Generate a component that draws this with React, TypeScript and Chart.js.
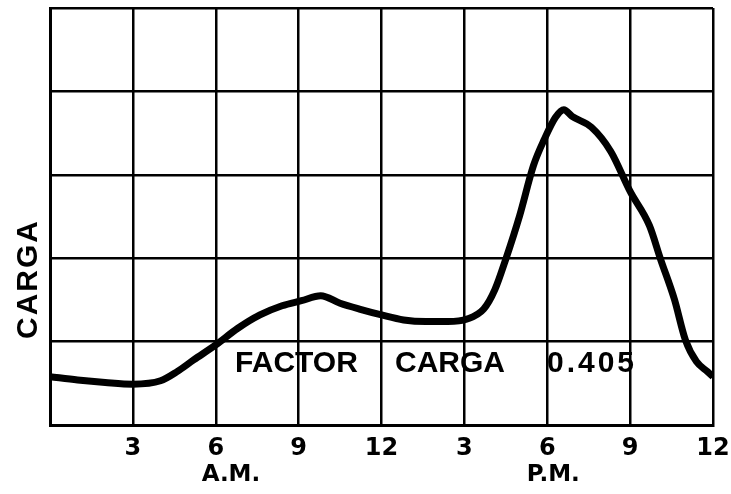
import React, { useEffect, useRef } from "react";
import { Chart, registerables } from "chart.js";

Chart.register(...registerables);

const hours = [0, 1, 2, 3, 4, 4.6, 5.2, 6, 6.8, 7.6, 8.4, 9.1, 9.8, 10.5, 11.2, 12, 12.8, 13.6, 14.4, 15.1, 15.7, 16.1, 16.5, 17, 17.5, 17.9, 18.3, 18.6, 18.9, 19.6, 20.3, 21, 21.7, 22.1, 22.6, 23, 23.4, 23.8, 24];
const load = [0.58, 0.54, 0.51, 0.49, 0.53, 0.64, 0.78, 0.96, 1.16, 1.32, 1.43, 1.49, 1.55, 1.46, 1.39, 1.32, 1.26, 1.24, 1.24, 1.27, 1.39, 1.62, 1.99, 2.51, 3.11, 3.43, 3.69, 3.78, 3.70, 3.57, 3.28, 2.80, 2.39, 1.99, 1.51, 1.02, 0.76, 0.64, 0.58];
const hourTickLabels = ["", "3", "6", "9", "12", "3", "6", "9", "12"];
const periodLabels = ["A.M.", "P.M."];
const periodHours = [6.55, 18.22];
const annotationWords = ["FACTOR", "CARGA", "0.405"];
const annotationHours = [6.7, 12.49, 17.99];
const annotationValue = 0.64;
const yTitle = "CARGA";

const overlayPlugin = {
  id: "overlay",
  afterDraw(chart: any) {
    const ctx = chart.ctx;
    const xs = chart.scales.x;
    const ys = chart.scales.y;
    const area = chart.chartArea;
    ctx.save();
    ctx.fillStyle = "#000";
    ctx.font = "bold 30px 'Liberation Sans', Arial, sans-serif";
    ctx.textAlign = "left";
    ctx.textBaseline = "alphabetic";
    annotationWords.forEach((w, i) => {
      (ctx as any).letterSpacing = i === 2 ? "3px" : "0px";
      ctx.fillText(w, xs.getPixelForValue(annotationHours[i]), ys.getPixelForValue(annotationValue));
    });
    (ctx as any).letterSpacing = "0px";
    ctx.font = "bold 23px 'DejaVu Sans', sans-serif";
    ctx.textAlign = "center";
    ctx.textBaseline = "middle";
    periodLabels.forEach((t, i) => {
      ctx.fillText(t, xs.getPixelForValue(periodHours[i]), area.bottom + 50);
    });
    ctx.translate(area.left - 21.5, area.bottom - 146);
    ctx.rotate(-Math.PI / 2);
    ctx.font = "bold 30px 'Liberation Sans', Arial, sans-serif";
    (ctx as any).letterSpacing = "2px";
    ctx.textAlign = "center";
    ctx.textBaseline = "middle";
    ctx.fillText(yTitle, 0, 0);
    ctx.restore();
  },
};

export default function App() {
  const ref = useRef<HTMLCanvasElement | null>(null);
  useEffect(() => {
    if (!ref.current) return;
    const chart = new Chart(ref.current, {
      type: "line",
      data: {
        datasets: [
          {
            data: hours.map((h, i) => ({ x: h, y: load[i] })),
            borderColor: "#000",
            borderWidth: 7,
            pointRadius: 0,
            cubicInterpolationMode: "monotone",
            fill: false,
          },
        ],
      },
      options: {
        animation: false,
        responsive: true,
        maintainAspectRatio: false,
        layout: { padding: { top: 8, right: 18, left: 0, bottom: 0 } },
        plugins: { legend: { display: false }, tooltip: { enabled: false } },
        scales: {
          x: {
            type: "linear",
            min: 0,
            max: 24,
            afterFit: (s: any) => {
              s.height = 69;
              s.paddingLeft = 0;
              s.paddingRight = 0;
            },
            ticks: {
              stepSize: 3,
              padding: 9,
              color: "#000",
              font: { family: "'DejaVu Sans', sans-serif", size: 24, weight: "bold" },
              callback: (v: any) => hourTickLabels[Math.round(Number(v) / 3)] ?? "",
              maxRotation: 0,
              autoSkip: false,
            },
            grid: { color: "#000", lineWidth: 2.5, drawTicks: false },
            border: { color: "#000", width: 3 },
          },
          y: {
            min: 0,
            max: 5,
            afterFit: (s: any) => {
              s.width = 50;
              s.paddingTop = 0;
              s.paddingBottom = 0;
            },
            ticks: { stepSize: 1, display: false },
            grid: { color: "#000", lineWidth: 2.5, drawTicks: false },
            border: { color: "#000", width: 3 },
          },
        },
      },
      plugins: [overlayPlugin],
    });
    return () => chart.destroy();
  }, []);
  return (
    <div style={{ position: "absolute", left: 0, top: 0, width: 731, height: 494, background: "#fff" }}>
      <canvas ref={ref} />
    </div>
  );
}
